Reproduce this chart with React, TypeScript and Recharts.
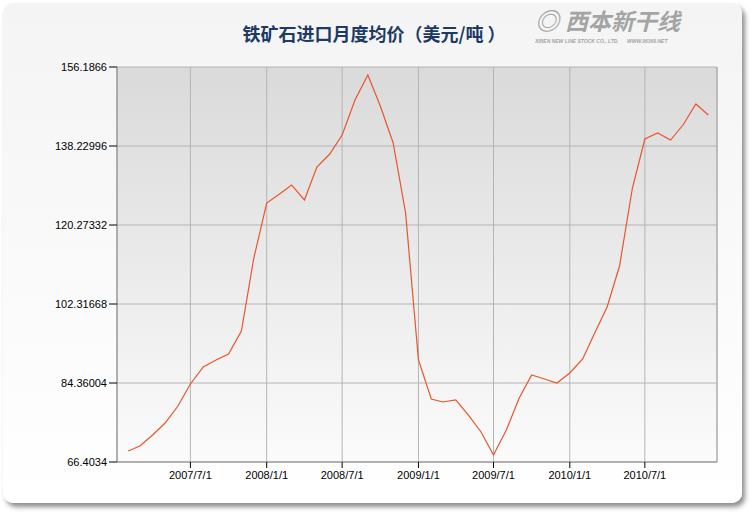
import { LineChart, Line, XAxis, YAxis, CartesianGrid, ReferenceLine } from "recharts";

// monthly average import price of iron ore, USD/ton
const months = [
  "2007/2/1", "2007/3/1", "2007/4/1", "2007/5/1", "2007/6/1", "2007/7/1",
  "2007/8/1", "2007/9/1", "2007/10/1", "2007/11/1", "2007/12/1", "2008/1/1",
  "2008/2/1", "2008/3/1", "2008/4/1", "2008/5/1", "2008/6/1", "2008/7/1",
  "2008/8/1", "2008/9/1", "2008/10/1", "2008/11/1", "2008/12/1", "2009/1/1",
  "2009/2/1", "2009/3/1", "2009/4/1", "2009/5/1", "2009/6/1", "2009/7/1",
  "2009/8/1", "2009/9/1", "2009/10/1", "2009/11/1", "2009/12/1", "2010/1/1",
  "2010/2/1", "2010/3/1", "2010/4/1", "2010/5/1", "2010/6/1", "2010/7/1",
  "2010/8/1", "2010/9/1", "2010/10/1", "2010/11/1", "2010/12/1",
];

const prices = [
  68.9, 70.04, 72.54, 75.27, 79.13, 84.13,
  88.0, 89.59, 90.95, 96.18, 112.77, 125.27,
  127.32, 129.37, 125.96, 133.46, 136.41, 140.73,
  148.69, 154.37, 147.32, 138.91, 123.0, 89.59,
  80.72, 80.04, 80.5, 77.09, 73.22, 67.99,
  73.68, 80.95, 86.18, 85.27, 84.36, 86.63,
  89.81, 95.5, 101.64, 110.95, 128.68, 139.82,
  141.18, 139.59, 143.0, 147.77, 145.27,
];

const xTickLabels = ["2007/7/1", "2008/1/1", "2008/7/1", "2009/1/1", "2009/7/1", "2010/1/1", "2010/7/1"];
const yTicks = [66.4034, 84.36004, 102.31668, 120.27332, 138.22996, 156.1866];

const toTime = (s: string) => {
  const [y, m, d] = s.split("/").map(Number);
  return Date.UTC(y, m - 1, d);
};
const fmtDate = (t: number) => {
  const d = new Date(t);
  return `${d.getUTCFullYear()}/${d.getUTCMonth() + 1}/${d.getUTCDate()}`;
};

const data = months.map((m, i) => ({ t: toTime(m), price: prices[i] }));
const xDomain = [Date.UTC(2007, 0, 5), Date.UTC(2010, 11, 22)];

const axisFont = { fontFamily: "'Liberation Sans', Arial, sans-serif", fontSize: 11, fill: "#000" };

export default function App() {
  return (
    <div style={{ position: "absolute", left: 0, top: 0, width: 752, height: 517, background: "#fff" }}>
      <div
        style={{
          position: "absolute",
          left: 3,
          top: 3,
          width: 739,
          height: 500,
          borderRadius: 10,
          background: "linear-gradient(#f4f4f4, #ffffff)",
          boxShadow: "3px 4px 5px rgba(0,0,0,0.45)",
        }}
      />
      <div
        style={{
          position: "absolute",
          left: 0,
          width: 748,
          top: 20,
          textAlign: "center",
          fontFamily: "'Noto Sans CJK SC', sans-serif",
          fontSize: 18,
          fontWeight: 700,
          color: "#1d3a64",
        }}
      >
        铁矿石进口月度均价（美元/吨 ）
      </div>
      <div style={{ position: "absolute", left: 535, top: 6, width: 175, color: "#a4a4a4" }}>
        <div
          style={{
            fontFamily: "'Noto Sans CJK SC', sans-serif",
            fontSize: 23,
            fontWeight: 700,
            fontStyle: "italic",
            lineHeight: "28px",
            height: 28,
            whiteSpace: "nowrap",
          }}
        >
          <span style={{ fontSize: 24, marginRight: 6 }}>◎</span>西本新干线
        </div>
        <div
          style={{
            marginTop: 4,
            fontFamily: "'Liberation Sans', sans-serif",
            fontSize: 5,
            lineHeight: "6px",
            fontWeight: 700,
            fontStyle: "italic",
            whiteSpace: "nowrap",
          }}
        >
          XIBEN NEW LINE STOCK CO., LTD. &nbsp;&nbsp;&nbsp;&nbsp; WWW.96369.NET
        </div>
      </div>
      <div style={{ position: "absolute", left: 0, top: 0 }}>
        <LineChart width={752} height={517} data={data} margin={{ top: 67, right: 35, bottom: 0, left: 0 }}>
          <defs>
            <linearGradient id="plotBg" x1="0" y1="0" x2="0" y2="1">
              <stop offset="0%" stopColor="#dadada" />
              <stop offset="100%" stopColor="#fbfbfb" />
            </linearGradient>
          </defs>
          <CartesianGrid fill="url(#plotBg)" fillOpacity={1} stroke="#b4b4b4" strokeWidth={1} />
          <XAxis
            dataKey="t"
            type="number"
            scale="time"
            domain={xDomain}
            ticks={xTickLabels.map(toTime)}
            tickFormatter={fmtDate}
            height={55}
            tickSize={6}
            tickMargin={3}
            tick={axisFont}
            stroke="#888"
            tickLine={{ stroke: "#000" }}
            allowDataOverflow
          />
          <YAxis
            type="number"
            domain={[yTicks[0], yTicks[yTicks.length - 1]]}
            ticks={yTicks}
            tickFormatter={(v: number) => String(v)}
            width={117}
            tickSize={8}
            tickMargin={2}
            tick={axisFont}
            stroke="#888"
            tickLine={{ stroke: "#000" }}
            allowDataOverflow
          />
          <ReferenceLine x={xDomain[1]} stroke="#a8a8a8" />
          <Line
            type="linear"
            dataKey="price"
            stroke="#e8552b"
            strokeWidth={1.2}
            dot={false}
            isAnimationActive={false}
          />
        </LineChart>
      </div>
    </div>
  );
}
